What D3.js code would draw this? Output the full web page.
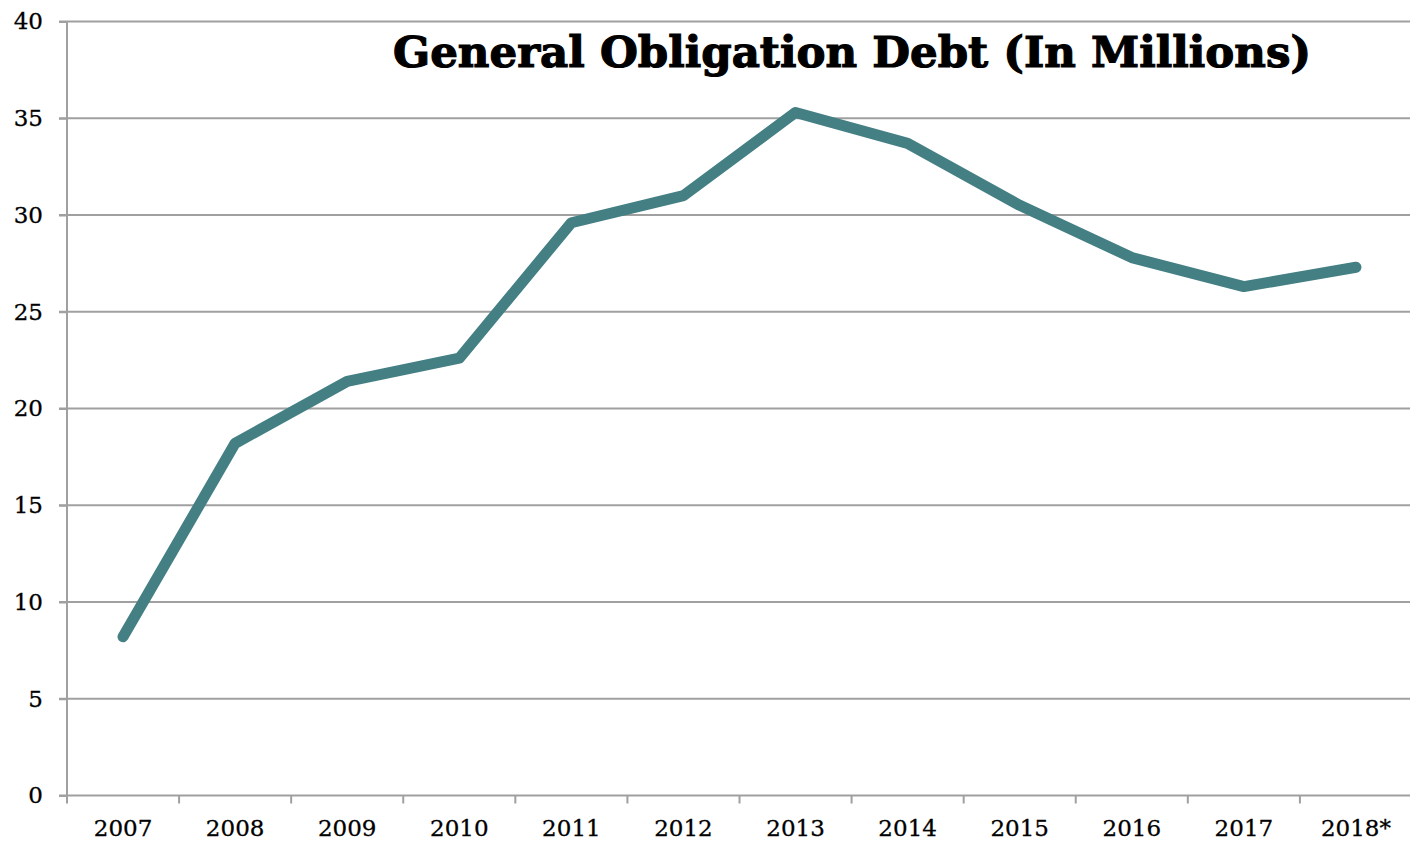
<html>
<head>
	<title>General Obligation Debt</title>
	<style>
		body {
			margin: 0;
			padding: 0;
			background: #fff;
		}
		.grid line {
			stroke: #a0a0a0;
			stroke-width: 2;
		}
		.axis .domain, .axis line {
			stroke: #a0a0a0;
			stroke-width: 2;
		}
		.axis text {
			font-family: "DejaVu Serif";
			font-size: 23px;
			fill: #000;
			stroke: #000;
			stroke-width: 0.3;
		}
	</style>
</head>
<body>
	<svg width="1410" height="841"></svg>
	<script src="https://d3js.org/d3.v7.min.js"></script>
	<script>
		// valori
		var years = ["2007", "2008", "2009", "2010", "2011", "2012", "2013", "2014", "2015", "2016", "2017", "2018*"];
		var debt = [8.2, 18.2, 21.4, 22.6, 29.6, 31.0, 35.3, 33.7, 30.5, 27.8, 26.3, 27.3];
		var yTicks = [0, 5, 10, 15, 20, 25, 30, 35, 40];

		var plotLeft = 67, plotRight = 1412, plotTop = 21.5, plotBottom = 795.5;
		var svg = d3.select("svg");

		var x = d3.scaleBand().domain(years).range([plotLeft, plotRight]);
		var y = d3.scaleLinear().domain([0, 40]).range([plotBottom, plotTop]);

		// griglia orizzontale
		svg.append("g")
			.attr("class", "grid")
			.selectAll("line")
			.data(yTicks.filter(function(d) { return d > 0; }))
			.enter()
			.append("line")
			.attr("x1", plotLeft - 8)
			.attr("x2", 1410)
			.attr("y1", function(d) { return y(d); })
			.attr("y2", function(d) { return y(d); });

		// asse y
		var yAxis = svg.append("g")
			.attr("class", "axis")
			.attr("transform", "translate(" + plotLeft + ",0)")
			.call(d3.axisLeft(y).tickValues(yTicks).tickSize(8).tickSizeOuter(0).tickPadding(16));
		yAxis.select(".domain").attr("d", "M0," + y(0) + "V" + y(40));

		// asse x
		var xAxis = svg.append("g")
			.attr("class", "axis")
			.attr("transform", "translate(0," + y(0) + ")")
			.call(d3.axisBottom(x).tickSize(0).tickPadding(24));
		xAxis.select(".domain").attr("d", "M" + (plotLeft - 8) + ",0H1410");

		// tacche tra le categorie
		xAxis.selectAll(".sep")
			.data(years)
			.enter()
			.append("line")
			.attr("class", "sep")
			.attr("x1", function(d) { return x(d); })
			.attr("x2", function(d) { return x(d); })
			.attr("y1", 0)
			.attr("y2", 8);

		// linea
		var line = d3.line()
			.x(function(d, i) { return x(years[i]) + x.bandwidth() / 2; })
			.y(function(d) { return y(d); });

		svg.append("path")
			.datum(debt)
			.attr("d", line)
			.attr("fill", "none")
			.attr("stroke", "#437f83")
			.attr("stroke-width", 11)
			.attr("stroke-linecap", "round")
			.attr("stroke-linejoin", "round");

		// titolo
		var title = svg.append("text")
			.attr("x", 393)
			.attr("y", 67)
			.style("font-family", "DejaVu Serif")
			.style("font-weight", "bold")
			.style("font-size", "44px")
			.style("stroke", "#000")
			.style("stroke-width", 1.2)
			.text("General Obligation Debt (In Millions)");
		var w = title.node().getComputedTextLength();
		title.style("font-size", (44 * 918 / w) + "px");
	</script>
</body>
</html>
